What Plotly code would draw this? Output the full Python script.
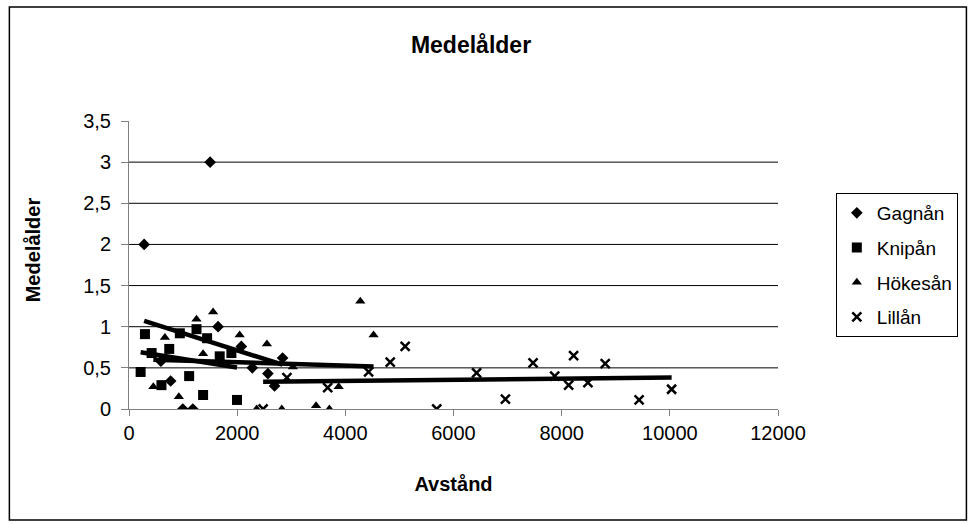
import numpy as np
import plotly.graph_objects as go

# ---- data ----
gagnan_x = [280, 590, 770, 995, 1180, 1500, 1647, 2077, 2280, 2568, 2691, 2840]
gagnan_y = [2.0, 0.58, 0.34, 0.0, 0.0, 3.0, 1.0, 0.76, 0.50, 0.43, 0.28, 0.62]

knipan_x = [215, 295, 418, 600, 744, 940, 1112, 1248, 1370, 1444, 1677, 1893, 1997]
knipan_y = [0.45, 0.91, 0.68, 0.29, 0.73, 0.92, 0.40, 0.97, 0.17, 0.86, 0.64, 0.68, 0.11]

hokesan_x = [450, 664, 922, 1248, 1370, 1555, 2046, 2360, 2550, 2825, 3030, 3459, 3705, 3877, 4277, 4522]
hokesan_y = [0.27, 0.87, 0.15, 1.09, 0.67, 1.18, 0.90, 0.0, 0.79, 0.0, 0.51, 0.04, 0.0, 0.27, 1.31, 0.90]

lillan_x = [2480, 2920, 3674, 4430, 4830, 5106, 5690, 6427, 6960, 7471, 7871, 8129, 8221, 8485, 8805, 9432, 10033]
lillan_y = [0.0, 0.38, 0.26, 0.45, 0.57, 0.76, 0.0, 0.44, 0.12, 0.56, 0.40, 0.29, 0.65, 0.32, 0.55, 0.11, 0.24]

series_names = ["Gagnån", "Knipån", "Hökesån", "Lillån"]
x_ticks = [0, 2000, 4000, 6000, 8000, 10000, 12000]
y_ticks = [0, 0.5, 1, 1.5, 2, 2.5, 3, 3.5]

# ---- styling ----
FONT = "Liberation Sans, Arial, sans-serif"
L, R, T, B = 129, 190, 121, 115
W, H = 970, 524
PW, PH = W - L - R, H - T - B

def px_x(px):
    return (px - L) / PW

def px_y(py):
    return (H - B - py) / PH

symbols = [
    dict(symbol="diamond", size=9, color="black"),
    dict(symbol="square", size=10, color="black"),
    dict(symbol="triangle-up", size=9, color="black"),
    dict(symbol="x-thin", size=9, color="black", line=dict(color="black", width=2.5)),
]
datasets = [(gagnan_x, gagnan_y), (knipan_x, knipan_y), (hokesan_x, hokesan_y), (lillan_x, lillan_y)]

fig = go.Figure()
for name, (xs, ys), mk in zip(series_names, datasets, symbols):
    fig.add_trace(go.Scatter(x=xs, y=ys, mode="markers", name=name, marker=mk,
                             legendgroup=name))

# linear trendlines (least squares fit of each series)
for name, (xs, ys) in zip(series_names, datasets):
    k, m = np.polyfit(xs, ys, 1)
    x0, x1 = min(xs), max(xs)
    fig.add_trace(go.Scatter(x=[x0, x1], y=[k * x0 + m, k * x1 + m], mode="lines",
                             line=dict(color="black", width=4.5), showlegend=False,
                             hoverinfo="skip"))

shapes = []
# horizontal gridlines (no line at the top tick)
for v in y_ticks[1:-1]:
    shapes.append(dict(type="line", xref="paper", yref="y", x0=0, x1=1, y0=v, y1=v,
                       line=dict(color="#000000", width=1), layer="below"))
# outer chart border
shapes.append(dict(type="rect", xref="paper", yref="paper",
                   x0=px_x(9), x1=px_x(969), y0=px_y(520), y1=px_y(7),
                   line=dict(color="black", width=1.5)))

fig.update_layout(
    width=W, height=H,
    margin=dict(l=L, r=R, t=T, b=B),
    paper_bgcolor="white", plot_bgcolor="white",
    font=dict(family=FONT, size=20, color="black"),
    separators=",.",
    title=dict(text="<b>Medelålder</b>", x=471 / W, xanchor="center",
               y=1 - 45 / H, yanchor="middle", font=dict(size=23)),
    xaxis=dict(range=[0, 12000], tickvals=x_ticks, tickformat="d",
               showgrid=False, zeroline=False, showline=True, linecolor="#808080",
               ticks="outside", ticklen=6, tickcolor="#808080",
               title=dict(text="<b>Avstånd</b>", font=dict(size=20), standoff=33)),
    yaxis=dict(range=[0, 3.5], tickvals=y_ticks, ticklabelstandoff=6,
               showgrid=False, zeroline=False, showline=True, linecolor="#808080",
               ticks="outside", ticklen=7, tickcolor="#808080"),
    annotations=[dict(text="<b>Medelålder</b>", textangle=-90, showarrow=False,
                      xref="paper", yref="paper", x=px_x(33), y=px_y(250),
                      xanchor="center", yanchor="middle", font=dict(size=20))],
    legend=dict(x=px_x(838), xanchor="left", y=px_y(193), yanchor="top",
                bordercolor="black", borderwidth=1, bgcolor="white",
                font=dict(size=19), tracegroupgap=7, itemsizing="trace"),
    shapes=shapes,
)

fig.write_html("out.html")
